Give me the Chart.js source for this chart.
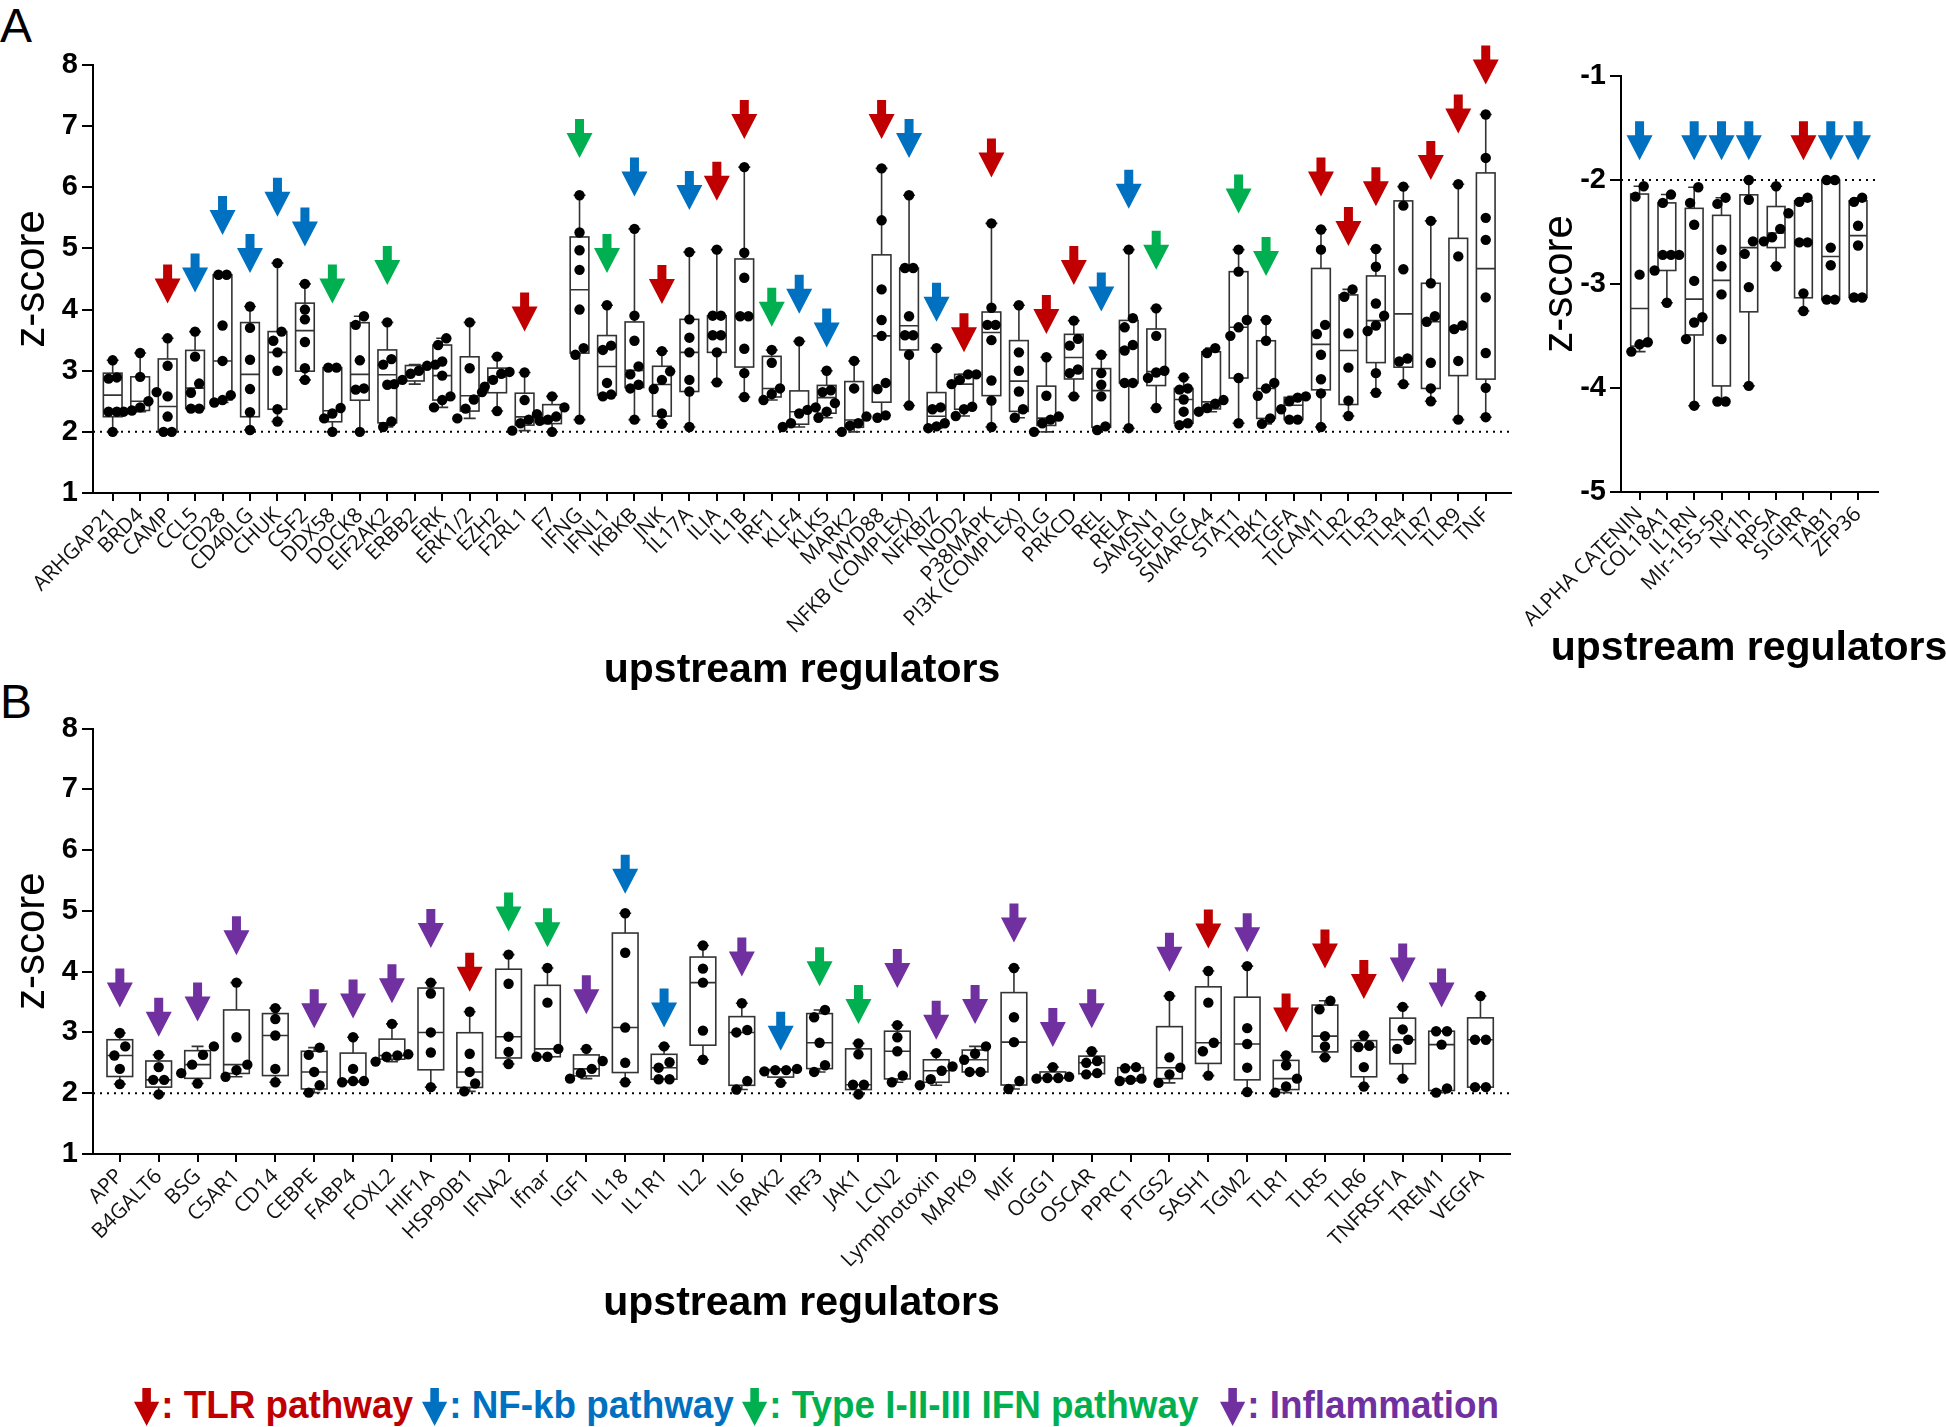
<!DOCTYPE html>
<html>
<head>
<meta charset="utf-8">
<script src="https://cdn.jsdelivr.net/npm/chart.js@4.4.1/dist/chart.umd.min.js"></script>
<style>
  body { margin: 0; background: #fff; width: 1946px; height: 1427px; position: relative; overflow: hidden; font-family: "Liberation Sans", Arial, sans-serif; }
  canvas { position: absolute; }
  .panel { position: absolute; font-size: 48px; line-height: 1; color: #000; }
  .xtitle { position: absolute; font-size: 41px; font-weight: bold; line-height: 1; white-space: nowrap; transform: translate(-50%, -50%); }
  .legend span { position: absolute; top: 1384px; font-family: "Liberation Sans", sans-serif; font-weight: bold; font-size: 38px; line-height: 42px; white-space: nowrap; transform: scaleX(0.97); transform-origin: left center; }
  .legend i { display: inline-block; width: 26px; height: 38px; margin-right: 2px; vertical-align: -8px; background: currentColor; clip-path: polygon(33% 0, 67% 0, 67% 36%, 100% 36%, 50% 100%, 0 36%, 33% 36%); }
</style>
</head>
<body>
<div class="panel" style="left:0;top:2px">A</div>
<div class="panel" style="left:0;top:678px">B</div>
<canvas id="chartA" width="1530" height="700" style="left:0;top:0"></canvas>
<canvas id="chartR" width="456" height="680" style="left:1490px;top:0"></canvas>
<canvas id="chartB" width="1530" height="640" style="left:0;top:700px"></canvas>
<div class="xtitle" style="left:1749px;top:646px">upstream regulators</div>
<div class="legend">
  <span style="left:134px;color:#C00000"><i></i>: TLR pathway</span>
  <span style="left:422px;color:#0070C0"><i></i>: NF-kb pathway</span>
  <span style="left:742px;color:#00B050"><i></i>: Type I-II-III IFN pathway</span>
  <span style="left:1220px;color:#7030A0"><i></i>: Inflammation</span>
</div>
<script>
// panel A, positive regulators
const catsA = ["ARHGAP21", "BRD4", "CAMP", "CCL5", "CD28", "CD40LG", "CHUK", "CSF2", "DDX58", "DOCK8",
  "EIF2AK2", "ERBB2", "ERK", "ERK1/2", "EZH2", "F2RL1", "F7", "IFNG", "IFNL1", "IKBKB", "JNK", "IL17A",
  "ILIA", "IL1B", "IRF1", "KLF4", "KLK5", "MARK2", "MYD88", "NFKB (COMPLEX)", "NFKBIZ", "NOD2", "P38MAPK",
  "PI3K (COMPLEX)", "PLG", "PRKCD", "REL", "RELA", "SAMSN1", "SELPLG", "SMARCA4", "STAT1", "TBK1", "TGFA",
  "TICAM1", "TLR2", "TLR3", "TLR4", "TLR7", "TLR9", "TNF"];
const zA = [
  [3.17, 2.89, 2.87, 2.33, 2.33, 2.0], [3.29, 2.9, 2.65, 2.5, 2.4, 2.35, 2.33], [3.53, 3.08, 2.58, 2.25, 2.0, 2.0],
  [3.64, 3.23, 2.79, 2.64, 2.38, 2.38], [4.57, 4.57, 3.74, 3.16, 2.6, 2.52, 2.48], [4.05, 3.7, 3.18, 2.7, 2.32, 2.03],
  [4.76, 3.64, 3.49, 3.3, 3.0, 2.37, 2.17], [4.42, 4.0, 3.84, 3.47, 3.04, 2.85], [3.05, 3.05, 2.39, 2.3, 2.22, 2.0],
  [3.89, 3.75, 3.17, 2.71, 2.69, 2.0], [3.79, 3.19, 3.1, 2.77, 2.17, 2.08], [3.1, 3.08, 3.0, 2.95, 2.85, 2.78],
  [3.53, 3.42, 3.15, 2.92, 2.58, 2.52, 2.4], [3.79, 3.04, 2.65, 2.53, 2.38, 2.22], [3.23, 2.98, 2.95, 2.85, 2.74, 2.34],
  [2.97, 2.52, 2.29, 2.2, 2.14, 2.02], [2.58, 2.4, 2.25, 2.2, 2.18, 2.0], [5.87, 5.26, 4.97, 4.65, 4.0, 3.37, 3.26, 2.2],
  [4.07, 3.41, 3.34, 2.8, 2.61, 2.58], [5.32, 3.9, 3.49, 3.07, 2.94, 2.77, 2.71, 2.2], [3.32, 2.99, 2.85, 2.7, 2.3, 2.13],
  [4.94, 3.84, 3.54, 3.3, 2.85, 2.66, 2.08], [4.98, 3.9, 3.9, 3.58, 3.58, 3.3, 2.81], [6.33, 4.93, 4.52, 3.89, 3.89, 3.36, 2.96, 2.57],
  [3.34, 3.13, 2.71, 2.62, 2.52], [3.48, 2.4, 2.36, 2.3, 2.14, 2.08], [3.0, 2.68, 2.65, 2.47, 2.33, 2.23],
  [3.16, 2.71, 2.25, 2.14, 2.1, 2.0], [6.31, 5.46, 4.33, 3.83, 3.57, 2.8, 2.7, 2.27, 2.23], [5.87, 4.68, 4.68, 3.89, 3.58, 3.58, 3.26, 2.43],
  [3.37, 2.4, 2.37, 2.14, 2.09, 2.06], [2.94, 2.94, 2.85, 2.78, 2.41, 2.37, 2.26], [5.41, 4.03, 3.75, 3.75, 3.5, 2.84, 2.51, 2.08],
  [4.07, 3.3, 3.0, 2.66, 2.37, 2.23], [3.22, 2.59, 2.25, 2.2, 2.14, 2.0], [3.82, 3.52, 3.41, 3.02, 2.96, 2.58],
  [3.26, 2.96, 2.77, 2.58, 2.09, 2.03], [4.98, 3.86, 3.71, 3.42, 3.33, 2.8, 2.8, 2.06], [4.02, 3.57, 3.0, 2.97, 2.88, 2.39],
  [2.89, 2.71, 2.69, 2.53, 2.33, 2.14, 2.11], [3.37, 3.29, 2.52, 2.46, 2.39, 2.33], [4.98, 4.62, 3.83, 3.71, 3.57, 2.88, 2.14],
  [3.83, 3.49, 2.8, 2.71, 2.59, 2.22, 2.13], [2.58, 2.56, 2.5, 2.37, 2.2, 2.2], [5.31, 4.98, 3.75, 3.6, 3.26, 2.86, 2.63, 2.08],
  [4.33, 4.21, 3.61, 3.05, 2.51, 2.26], [4.99, 4.7, 4.1, 3.9, 3.74, 3.65, 2.96, 2.64], [6.01, 5.7, 4.66, 3.2, 3.15, 2.78],
  [5.45, 4.43, 3.89, 3.8, 3.13, 2.71, 2.5], [6.05, 4.87, 3.74, 3.68, 3.16, 2.2], [7.19, 6.48, 5.5, 5.14, 4.2, 3.29, 2.72, 2.24]
];
// pathway arrows: R = TLR, B = NF-kb, G = IFN, P = inflammation, "-" = none
const arrowA = ["-", "-", "R", "B", "B", "B", "B", "B", "G", "-", "G", "-", "-", "-", "-", "R", "-", "G", "G", "B", "R",
  "B", "R", "R", "G", "B", "B", "-", "R", "B", "B", "R", "R", "-", "R", "R", "B", "B", "G", "-", "-", "G", "G", "-",
  "R", "R", "R", "-", "R", "R", "R"];
const tipA = [null, null, 4.1, 4.28, 5.22, 4.6, 5.52, 5.03, 4.1, null, 4.4, null, null, null, null, 3.64, null, 6.48, 4.6,
  5.85, 4.09, 5.63, 5.78, 6.79, 3.72, 3.93, 3.38, null, 6.79, 6.48, 3.8, 3.3, 6.16, null, 3.6, 4.4, 3.97, 5.65, 4.65,
  null, null, 5.57, 4.55, null, 5.85, 5.04, 5.69, null, 6.12, 6.88, 7.68];

// panel A, negative regulators
const catsR = ["ALPHA CATENIN", "COL18A1", "IL1RN", "MIr-155-5p", "Nr1h", "RPSA", "SIGIRR", "TAB1", "ZFP36"];
const zR = [
  [-2.06, -2.16, -2.91, -3.56, -3.58, -3.65], [-2.14, -2.22, -2.72, -2.72, -2.72, -2.87, -3.18],
  [-2.07, -2.22, -2.43, -2.97, -3.32, -3.37, -3.53, -4.17], [-2.17, -2.23, -2.67, -2.83, -3.1, -3.53, -4.13, -4.13],
  [-2.0, -2.19, -2.59, -2.71, -3.03, -3.98], [-2.06, -2.32, -2.47, -2.55, -2.59, -2.83],
  [-2.17, -2.21, -2.6, -2.6, -3.09, -3.26], [-2.0, -2.0, -2.65, -2.82, -3.15, -3.15],
  [-2.17, -2.21, -2.44, -2.63, -3.13, -3.13]
];
const arrowR = ["B", "-", "B", "B", "B", "-", "R", "B", "B"];
const tipR = [-1.81, null, -1.81, -1.81, -1.81, null, -1.81, -1.81, -1.81];

// panel B
const catsB = ["APP", "B4GALT6", "BSG", "C5AR1", "CD14", "CEBPE", "FABP4", "FOXL2", "HIF1A", "HSP90B1", "IFNA2",
  "Ifnar", "IGF1", "IL18", "IL1R1", "IL2", "IL6", "IRAK2", "IRF3", "JAK1", "LCN2", "Lymphotoxin", "MAPK9", "MIF",
  "OGG1", "OSCAR", "PPRC1", "PTGS2", "SASH1", "TGM2", "TLR1", "TLR5", "TLR6", "TNFRSF1A", "TREM1", "VEGFA"];
const zB = [
  [2.99, 2.77, 2.62, 2.4, 2.15], [2.63, 2.43, 2.22, 2.22, 1.98], [2.77, 2.63, 2.47, 2.33, 2.16], [3.82, 2.92, 2.47, 2.38, 2.27],
  [3.4, 3.22, 2.95, 2.4, 2.18], [2.75, 2.63, 2.35, 2.13, 2.01], [2.92, 2.4, 2.2, 2.2, 2.18], [3.14, 2.64, 2.62, 2.6, 2.52],
  [3.82, 3.64, 3.0, 2.67, 2.1], [3.34, 2.65, 2.35, 2.16, 2.03], [4.28, 3.8, 2.93, 2.68, 2.48], [4.06, 3.49, 2.73, 2.6, 2.6],
  [2.73, 2.53, 2.4, 2.33, 2.24], [4.96, 4.31, 3.08, 2.5, 2.18], [2.77, 2.51, 2.42, 2.23, 2.23], [4.43, 4.05, 3.82, 3.03, 2.55],
  [3.48, 3.04, 3.0, 2.2, 2.06], [2.4, 2.38, 2.38, 2.36, 2.17], [3.37, 3.25, 2.83, 2.46, 2.35], [2.82, 2.64, 2.14, 2.14, 1.98],
  [3.12, 2.92, 2.69, 2.29, 2.18], [2.66, 2.44, 2.37, 2.23, 2.13], [2.77, 2.65, 2.55, 2.35, 2.35], [4.06, 3.25, 2.84, 2.2, 2.07],
  [2.43, 2.27, 2.25, 2.25, 2.24], [2.69, 2.53, 2.5, 2.33, 2.31], [2.43, 2.41, 2.24, 2.22, 2.2], [3.6, 2.59, 2.42, 2.31, 2.17],
  [4.01, 3.49, 2.83, 2.69, 2.29], [4.09, 3.07, 2.81, 2.42, 2.02], [2.62, 2.46, 2.24, 2.11, 2.01], [3.52, 3.38, 2.94, 2.77, 2.59],
  [2.95, 2.78, 2.76, 2.43, 2.11], [3.42, 3.05, 2.88, 2.73, 2.24], [3.02, 3.02, 2.8, 2.08, 2.01], [3.6, 2.88, 2.88, 2.1, 2.1]
];
const arrowB = ["P", "P", "P", "P", "-", "P", "P", "P", "P", "R", "G", "G", "P", "B", "B", "-", "P", "B", "G", "G", "P",
  "P", "P", "P", "P", "P", "-", "P", "R", "P", "R", "R", "R", "P", "P", "-"];
const tipB = [3.41, 2.93, 3.18, 4.27, null, 3.07, 3.23, 3.48, 4.39, 3.67, 4.66, 4.4, 3.3, 5.28, 3.08, null, 3.92, 2.7,
  3.76, 3.14, 3.73, 2.88, 3.14, 4.48, 2.76, 3.07, null, 4.0, 4.38, 4.32, 3.0, 4.05, 3.55, 3.82, 3.41, null];

const colors = { R: "#C00000", B: "#0070C0", G: "#00B050", P: "#7030A0" };

// quartiles like prism: position p*(n+1)
const quant = (s, p) => {
  const n = s.length;
  const pos = p * (n + 1);
  if (pos <= 1) return s[0];
  if (pos >= n) return s[n - 1];
  const lo = Math.floor(pos);
  return s[lo - 1] + (pos - lo) * (s[lo] - s[lo - 1]);
};

// spread overlapping dots sideways
const dots = (groups, step) => {
  const out = [];
  groups.forEach((vals, i) => {
    const s = [...vals].sort((a, b) => a - b);
    let k = 0;
    while (k < s.length) {
      let e = k;
      while (e + 1 < s.length && s[e + 1] - s[e] < 0.16) e++;
      const m = e - k + 1;
      for (let j = 0; j < m; j++) out.push({ x: i + (j - (m - 1) / 2) * step, y: s[k + j] });
      k = e + 1;
    }
  });
  return out;
};

const boxPlugin = (groups, codes, tips, o) => ({
  id: "boxes",
  beforeDatasetsDraw(chart) {
    const { ctx, chartArea, scales: { x, y } } = chart;
    ctx.save();
    // dotted threshold line
    const ry = y.getPixelForValue(o.ref);
    ctx.strokeStyle = "#000";
    ctx.lineWidth = 2;
    ctx.setLineDash([2, 5]);
    ctx.beginPath();
    ctx.moveTo(chartArea.left, ry);
    ctx.lineTo(chartArea.right, ry);
    ctx.stroke();
    ctx.setLineDash([]);

    ctx.strokeStyle = "#333";
    ctx.lineWidth = 1.6;
    groups.forEach((vals, i) => {
      const s = [...vals].sort((a, b) => a - b);
      const cx = x.getPixelForValue(i);
      const hw = x.getPixelForValue(i + o.boxW / 2) - cx;
      const pMin = y.getPixelForValue(s[0]);
      const pMax = y.getPixelForValue(s[s.length - 1]);
      const p1 = y.getPixelForValue(quant(s, 0.25));
      const p2 = y.getPixelForValue(quant(s, 0.5));
      const p3 = y.getPixelForValue(quant(s, 0.75));
      ctx.beginPath();
      ctx.moveTo(cx, pMax); ctx.lineTo(cx, p3);
      ctx.moveTo(cx, p1); ctx.lineTo(cx, pMin);
      ctx.moveTo(cx - 6, pMax); ctx.lineTo(cx + 6, pMax);
      ctx.moveTo(cx - 6, pMin); ctx.lineTo(cx + 6, pMin);
      ctx.moveTo(cx - hw, p2); ctx.lineTo(cx + hw, p2);
      ctx.stroke();
      ctx.strokeRect(cx - hw, p3, hw * 2, p1 - p3);
    });
    ctx.restore();
  },
  afterDatasetsDraw(chart) {
    const { ctx, scales: { x, y } } = chart;
    ctx.save();
    codes.forEach((c, i) => {
      if (c === "-" || tips[i] == null) return;
      const cx = x.getPixelForValue(i);
      const ty = y.getPixelForValue(tips[i]);
      ctx.fillStyle = colors[c];
      ctx.beginPath();
      ctx.moveTo(cx, ty);
      ctx.lineTo(cx + 13, ty - 25);
      ctx.lineTo(cx + 4.5, ty - 25);
      ctx.lineTo(cx + 4.5, ty - 39);
      ctx.lineTo(cx - 4.5, ty - 39);
      ctx.lineTo(cx - 4.5, ty - 25);
      ctx.lineTo(cx - 13, ty - 25);
      ctx.closePath();
      ctx.fill();
    });
    ctx.restore();
  }
});

const makeChart = (id, cats, groups, codes, tips, o) => new Chart(document.getElementById(id), {
  type: "scatter",
  data: {
    datasets: [{
      data: dots(groups, o.step),
      pointRadius: 5.2,
      pointHoverRadius: 5.2,
      pointBackgroundColor: "#000",
      pointBorderWidth: 0
    }]
  },
  options: {
    responsive: false,
    animation: false,
    events: [],
    layout: { padding: o.pad },
    plugins: { legend: { display: false }, tooltip: { enabled: false } },
    scales: {
      x: {
        type: "linear",
        min: o.xMin,
        max: o.xMax,
        afterBuildTicks: (s) => { s.ticks = cats.map((c, i) => ({ value: i })); },
        afterFit: (s) => { s.height = o.xH; s.paddingLeft = 0; s.paddingRight = 0; },
        ticks: {
          autoSkip: false, minRotation: 45, maxRotation: 45, padding: 2, color: "#111",
          font: { family: "Open Sans", size: 21 },
          callback: (v) => cats[v]
        },
        grid: { drawOnChartArea: false, tickLength: 8, color: "#000", lineWidth: 2 },
        border: { color: "#000", width: 2 },
        title: {
          display: o.xTitle, text: "upstream regulators", color: "#000",
          font: { family: "Liberation Sans", size: 41, weight: "bold" },
          padding: { top: 0, bottom: o.xTitlePad }
        }
      },
      y: {
        min: o.yMin,
        max: o.yMax,
        afterFit: (s) => { s.width = o.yW; s.paddingTop = 0; s.paddingBottom = 0; },
        ticks: { stepSize: 1, padding: 4, color: "#000", font: { family: "Liberation Sans", size: 29, weight: "bold" } },
        grid: { drawOnChartArea: false, tickLength: 11, color: "#000", lineWidth: 2 },
        border: { color: "#000", width: 2 },
        title: {
          display: true, text: "z-score", color: "#000",
          font: { family: "Liberation Sans", size: 42 },
          padding: { top: o.yTitlePad, bottom: 0 }
        }
      }
    }
  },
  plugins: [boxPlugin(groups, codes, tips, o)]
});

makeChart("chartA", catsA, zA, arrowA, tipA, {
  pad: { top: 65, right: 19, bottom: 0, left: 0 }, xMin: -0.717, xMax: 50.92, xH: 207, yW: 93,
  yMin: 1, yMax: 8, ref: 2, boxW: 0.68, step: 0.3, xTitle: true, xTitlePad: 5, yTitlePad: 7
});
makeChart("chartR", catsR, zR, arrowR, tipR, {
  pad: { top: 76, right: 68, bottom: 0, left: 0 }, xMin: -0.68, xMax: 8.73, xH: 188, yW: 131,
  yMin: -5, yMax: -1, ref: -2, boxW: 0.65, step: 0.3, xTitle: false, xTitlePad: 0, yTitlePad: 45
});
makeChart("chartB", catsB, zB, arrowB, tipB, {
  pad: { top: 28.5, right: 20, bottom: 0, left: 0 }, xMin: -0.69, xMax: 35.76, xH: 186, yW: 93,
  yMin: 1, yMax: 8, ref: 2, boxW: 0.66, step: 0.28, xTitle: true, xTitlePad: 12, yTitlePad: 7
});
</script>
</body>
</html>
